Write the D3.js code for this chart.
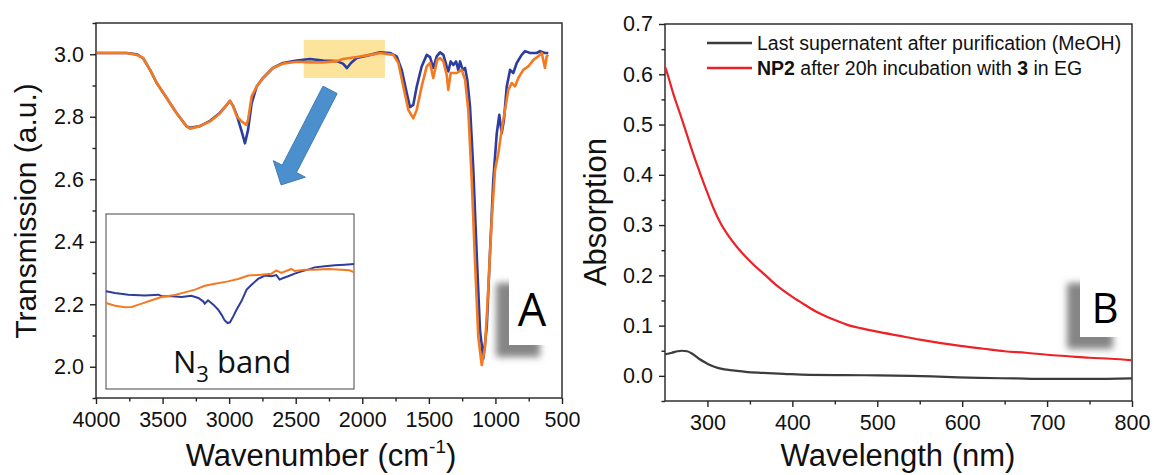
<!DOCTYPE html>
<html><head><meta charset="utf-8">
<script src="https://cdn.jsdelivr.net/npm/d3@7"></script>
<style>
body{margin:0;background:#fff}
svg{display:block}
text{font-family:Arial,"Liberation Sans",sans-serif}
</style>
</head><body>
<svg id="chart" width="1154" height="475"></svg>
<script>
// ---------------- DATA ----------------
// Panel A: FT-IR spectra  [wavenumber (cm-1), transmission (a.u.)]
const irBlue = [[3995,3.004],[3770,3.004],[3694,3.000],[3647,2.988],[3594,2.950],[3544,2.908],[3469,2.860],[3394,2.811],[3319,2.769],[3294,2.765],[3219,2.770],[3143,2.787],[3068,2.813],[3018,2.838],[2994,2.851],[2971,2.835],[2943,2.806],[2906,2.753],[2881,2.715],[2858,2.758],[2831,2.843],[2793,2.897],[2746,2.924],[2671,2.956],[2596,2.972],[2493,2.980],[2393,2.985],[2295,2.980],[2192,2.978],[2145,2.970],[2115,2.956],[2085,2.972],[2042,2.988],[1942,2.998],[1867,3.006],[1792,3.004],[1741,2.993],[1704,2.950],[1666,2.876],[1642,2.831],[1617,2.838],[1591,2.897],[1554,2.961],[1516,2.998],[1491,2.991],[1467,2.956],[1441,2.993],[1416,3.006],[1391,2.998],[1366,2.961],[1354,2.945],[1336,2.977],[1316,2.966],[1296,2.977],[1279,2.950],[1266,2.977],[1246,2.950],[1228,2.956],[1211,2.918],[1191,2.833],[1166,2.630],[1141,2.363],[1116,2.117],[1091,2.026],[1065,2.128],[1041,2.363],[1016,2.598],[990,2.747],[971,2.806],[953,2.747],[936,2.790],[915,2.897],[890,2.950],[866,2.940],[840,2.972],[803,2.998],[778,3.010],[740,3.004],[690,3.004],[665,3.010],[628,3.004],[603,3.004]];
const irOrange = [[3995,3.004],[3770,3.004],[3694,2.998],[3647,2.988],[3594,2.950],[3544,2.908],[3469,2.860],[3394,2.811],[3319,2.769],[3294,2.762],[3219,2.770],[3143,2.785],[3068,2.811],[3018,2.838],[2994,2.851],[2971,2.835],[2943,2.801],[2906,2.785],[2870,2.774],[2858,2.790],[2831,2.865],[2793,2.897],[2746,2.924],[2671,2.956],[2596,2.970],[2493,2.976],[2393,2.974],[2295,2.974],[2192,2.978],[2145,2.985],[2042,2.991],[1942,2.998],[1867,3.004],[1767,2.998],[1729,2.972],[1692,2.897],[1654,2.822],[1617,2.795],[1591,2.822],[1554,2.897],[1516,2.961],[1491,2.972],[1467,2.924],[1437,2.982],[1416,2.988],[1391,2.977],[1366,2.934],[1354,2.886],[1336,2.940],[1291,2.940],[1253,2.950],[1228,2.918],[1204,2.822],[1178,2.598],[1153,2.331],[1129,2.096],[1103,2.005],[1078,2.064],[1053,2.256],[1028,2.470],[1003,2.630],[978,2.683],[953,2.758],[928,2.822],[903,2.886],[878,2.908],[853,2.897],[828,2.924],[791,2.950],[753,2.961],[715,2.982],[678,2.993],[652,3.004],[628,2.956],[615,2.993],[603,2.998]];
// Inset: N3 band region [wavenumber, relative transmission (a.u.)]
const insetBlue = [[2440,55.8],[2418,54.9],[2385,53.9],[2344,53.5],[2311,53.9],[2303,53.0],[2279,53.0],[2254,52.6],[2230,53.3],[2213,52.0],[2201,50.1],[2197,48.8],[2189,50.7],[2176,48.2],[2164,45.3],[2156,42.5],[2148,39.2],[2141,37.7],[2135,38.1],[2127,41.5],[2119,45.3],[2107,50.1],[2094,56.8],[2082,59.6],[2066,62.9],[2049,64.8],[2033,64.4],[2021,65.1],[2013,62.5],[2004,63.4],[1992,64.4],[1976,65.9],[1959,67.2],[1943,68.2],[1927,69.5],[1902,70.1],[1877,70.7],[1853,71.0],[1830,71.4]];
const insetOrange = [[2440,49.1],[2418,47.6],[2393,46.7],[2377,46.9],[2352,48.8],[2328,50.7],[2303,52.6],[2271,53.7],[2246,55.2],[2221,56.8],[2197,59.0],[2172,60.2],[2140,61.5],[2115,62.9],[2090,64.8],[2058,65.3],[2033,65.9],[2021,67.8],[2009,66.3],[1984,68.6],[1976,67.4],[1951,68.2],[1927,68.2],[1894,68.6],[1861,68.2],[1841,67.8],[1830,66.7]];
const highlightRange = {wn:[2440,1830], t:[3.046,2.924]};
const arrowFrom = [2242, 2.886], arrowTo = [2610, 2.582];

// Panel B: UV-Vis  [wavelength (nm), absorption]
const uvRed = [[250,0.615],[253,0.600],[260,0.560],[266,0.530],[272,0.500],[280,0.458],[286,0.428],[292,0.400],[300,0.364],[308,0.330],[316,0.302],[325,0.278],[335,0.256],[345,0.237],[355,0.220],[367,0.202],[380,0.182],[390,0.169],[400,0.157],[415,0.141],[430,0.126],[447,0.113],[464,0.102],[480,0.095],[500,0.088],[525,0.080],[550,0.072],[575,0.065],[600,0.059],[625,0.054],[650,0.049],[675,0.046],[700,0.042],[725,0.039],[750,0.036],[775,0.034],[800,0.031]];
const uvBlack = [[250,0.043],[258,0.046],[265,0.049],[270,0.050],[276,0.049],[282,0.044],[290,0.034],[298,0.026],[305,0.020],[312,0.016],[320,0.013],[330,0.011],[345,0.008],[365,0.006],[390,0.004],[420,0.002],[460,0.0015],[500,0.001],[540,0.000],[580,-0.002],[620,-0.004],[660,-0.005],[700,-0.006],[750,-0.006],[800,-0.005]];

const xTicksA = [4000,3500,3000,2500,2000,1500,1000,500];
const xMinorA = [3750,3250,2750,2250,1750,1250,750];
const yTicksA = [2.0,2.2,2.4,2.6,2.8,3.0];
const yMinorA = [1.9,2.1,2.3,2.5,2.7,2.9,3.1];
const xTicksB = [300,400,500,600,700,800];
const xMinorB = [350,450,550,650,750];
const yTicksB = [0.0,0.1,0.2,0.3,0.4,0.5,0.6,0.7];
const yMinorB = [-0.05,0.05,0.15,0.25,0.35,0.45,0.55,0.65];
const legendLabels = [["Last supernatent after purification (MeOH)"],["NP2"," after 20h incubation with ","3"," in EG"]];

// ---------------- DRAW ----------------
const svg = d3.select("#chart");
const defs = svg.append("defs");
defs.append("filter").attr("id","sh").attr("x","-60%").attr("y","-40%").attr("width","200%").attr("height","180%")
  .append("feDropShadow").attr("dx",-13).attr("dy",12).attr("stdDeviation",3.5)
  .attr("flood-color","#6f6f6f").attr("flood-opacity",0.85);

function frame(g, x, y, xt, xm, yt, ym, fmtY, fs) {
  const [x0,x1] = x.range(), [y0,y1] = y.range();
  g.append("rect").attr("x",x0).attr("y",y1).attr("width",x1-x0).attr("height",y0-y1)
    .attr("fill","none").attr("stroke","#222").attr("stroke-width",1.4);
  g.append("g").attr("transform",`translate(0,${y0})`)
    .call(d3.axisBottom(x).tickValues(xt).tickSize(6).tickPadding(8).tickFormat(d3.format("d")));
  g.append("g").attr("transform",`translate(0,${y0})`)
    .call(d3.axisBottom(x).tickValues(xm).tickSize(3.5).tickFormat(""));
  g.append("g").attr("transform",`translate(${x0},0)`)
    .call(d3.axisLeft(y).tickValues(yt).tickSize(6).tickPadding(6).tickFormat(fmtY));
  g.append("g").attr("transform",`translate(${x0},0)`)
    .call(d3.axisLeft(y).tickValues(ym).tickSize(3.5).tickFormat(""));
  g.selectAll(".domain").remove();
  g.selectAll(".tick line").attr("stroke","#222").attr("stroke-width",1.4);
  g.selectAll(".tick text").attr("font-size",fs).attr("fill","#111").style("font-family","Arial, 'Liberation Sans', sans-serif");
}

// ===== Panel A =====
const xA = d3.scaleLinear().domain([4000,500]).range([96,562]);
const yA = d3.scaleLinear().domain([1.9,3.1]).range([398,23]);
const gA = svg.append("g");
gA.append("rect").attr("x",xA(highlightRange.wn[0])).attr("y",yA(highlightRange.t[0]))
  .attr("width",xA(highlightRange.wn[1])-xA(highlightRange.wn[0]))
  .attr("height",yA(highlightRange.t[1])-yA(highlightRange.t[0]))
  .attr("fill","#fde49c");
frame(gA, xA, yA, xTicksA, xMinorA, yTicksA, yMinorA, d3.format(".1f"), 21.5);
const lineA = d3.line().x(d=>xA(d[0])).y(d=>yA(d[1]));
gA.append("path").datum(irBlue).attr("d",lineA).attr("fill","none").attr("stroke","#2c3d9f").attr("stroke-width",2.6).attr("stroke-linejoin","round");
gA.append("path").datum(irOrange).attr("d",lineA).attr("fill","none").attr("stroke","#f47a22").attr("stroke-width",2.6).attr("stroke-linejoin","round");
(function(){
  const tx=xA(arrowFrom[0]), ty=yA(arrowFrom[1]), hx=xA(arrowTo[0]), hy=yA(arrowTo[1]);
  const dx=hx-tx, dy=hy-ty, L=Math.hypot(dx,dy), ux=dx/L, uy=dy/L, px=-uy, py=ux;
  const hw=8, HW=18, HL=18;
  const bx=hx-ux*HL, by=hy-uy*HL;
  const pts=[[tx+px*hw,ty+py*hw],[bx+px*hw,by+py*hw],[bx+px*HW,by+py*HW],[hx,hy],[bx-px*HW,by-py*HW],[bx-px*hw,by-py*hw],[tx-px*hw,ty-py*hw]];
  gA.append("polygon").attr("points",pts.map(p=>p.join(",")).join(" "))
    .attr("fill","#4b8fcd").attr("stroke","#3d7cb8").attr("stroke-width",1);
})();
// inset
const xI = d3.scaleLinear().domain([2440,1830]).range([106,354]);
const yI = d3.scaleLinear().domain([0,100]).range([389,214]);
gA.append("rect").attr("x",106).attr("y",214).attr("width",248).attr("height",175)
  .attr("fill","#fff").attr("stroke","#444").attr("stroke-width",1);
const lineI = d3.line().x(d=>xI(d[0])).y(d=>yI(d[1]));
gA.append("path").datum(insetBlue).attr("d",lineI).attr("fill","none").attr("stroke","#2c3d9f").attr("stroke-width",2);
gA.append("path").datum(insetOrange).attr("d",lineI).attr("fill","none").attr("stroke","#f47a22").attr("stroke-width",2);
const nt = gA.append("text").attr("x",173).attr("y",373).attr("font-size",31).attr("fill","#111")
  .style("font-family","'Open Sans','Noto Sans',sans-serif");
nt.append("tspan").text("N");
nt.append("tspan").attr("font-size",22).attr("dy",9).text("3");
nt.append("tspan").attr("dy",-9).text(" band");
// label A
gA.append("rect").attr("x",509).attr("y",271).attr("width",44).attr("height",74).attr("fill","#fff").attr("filter","url(#sh)");
gA.append("text").attr("x",532).attr("y",326).attr("text-anchor","middle").attr("font-size",45).attr("fill","#000")
  .style("font-family","'Open Sans','Noto Sans',sans-serif").text("A");
gA.append("text").attr("transform","translate(36,211) rotate(-90)").attr("text-anchor","middle").attr("font-size",30).attr("fill","#111").text("Transmission (a.u.)");
const wt = gA.append("text").attr("x",321).attr("y",466).attr("text-anchor","middle").attr("font-size",31).attr("fill","#111");
wt.append("tspan").text("Wavenumber (cm");
wt.append("tspan").attr("font-size",19).attr("dy",-13).text("-1");
wt.append("tspan").attr("dy",13).text(")");

// ===== Panel B =====
const xB = d3.scaleLinear().domain([250,800]).range([665,1132]);
const yB = d3.scaleLinear().domain([-0.05,0.7]).range([401,24]);
const gB = svg.append("g");
frame(gB, xB, yB, xTicksB, xMinorB, yTicksB, yMinorB, d3.format(".1f"), 21.5);
const lineB = d3.line().x(d=>xB(d[0])).y(d=>yB(d[1])).curve(d3.curveMonotoneX);
gB.append("path").datum(uvBlack).attr("d",lineB).attr("fill","none").attr("stroke","#3c3c3c").attr("stroke-width",2.2);
gB.append("path").datum(uvRed).attr("d",lineB).attr("fill","none").attr("stroke","#ec2227").attr("stroke-width",2.2);
gB.append("rect").attr("x",1080).attr("y",271).attr("width",46).attr("height",66).attr("fill","#fff").attr("filter","url(#sh)");
gB.append("text").attr("x",1105).attr("y",323).attr("text-anchor","middle").attr("font-size",42).attr("fill","#000")
  .style("font-family","'Open Sans','Noto Sans',sans-serif").text("B");
const legColors = ["#3c3c3c","#ec2227"];
legendLabels.forEach((parts,i)=>{
  const ly = 43 + i*25;
  gB.append("line").attr("x1",707).attr("x2",752).attr("y1",ly).attr("y2",ly).attr("stroke",legColors[i]).attr("stroke-width",2.5);
  const t = gB.append("text").attr("x",757).attr("y",ly+7).attr("font-size",19.5).attr("fill","#111");
  parts.forEach((p,j)=>{
    const bold = (i===1 && (j===0 || j===2));
    t.append("tspan").attr("font-weight",bold?"bold":"normal").text(p);
  });
});
gB.append("text").attr("transform","translate(606,212) rotate(-90)").attr("text-anchor","middle").attr("font-size",31).attr("fill","#111").text("Absorption");
gB.append("text").attr("x",898).attr("y",466).attr("text-anchor","middle").attr("font-size",31).attr("fill","#111").text("Wavelength (nm)");
</script>
</body></html>
